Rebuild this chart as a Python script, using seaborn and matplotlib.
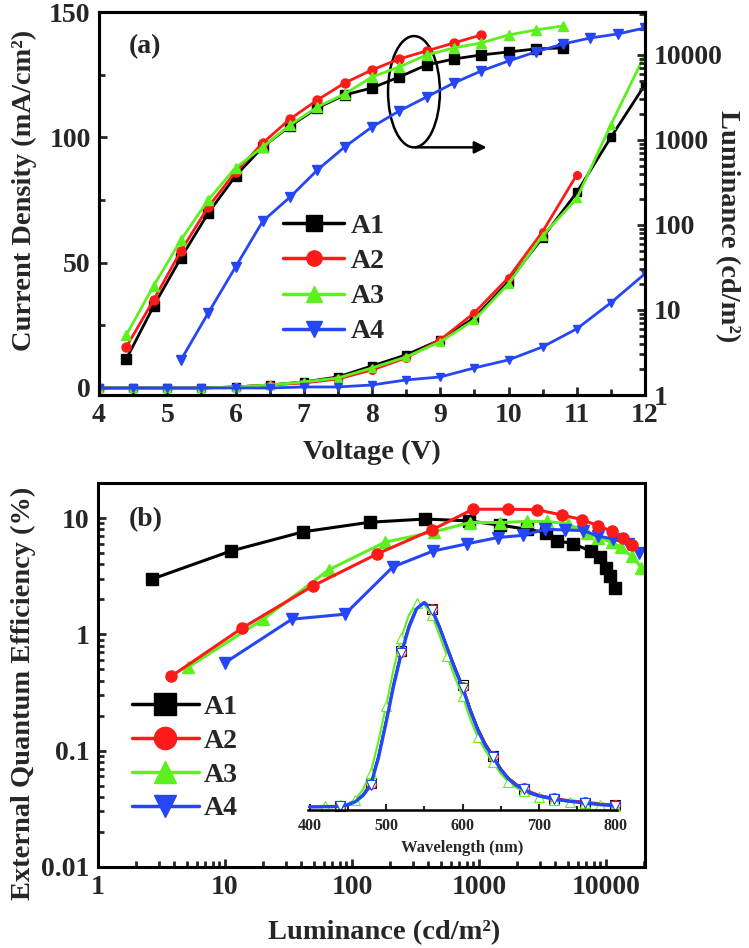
import matplotlib
matplotlib.use("Agg")
import matplotlib.pyplot as plt
import seaborn as sns
from matplotlib.patches import Ellipse
from matplotlib.lines import Line2D
from matplotlib.ticker import MultipleLocator, LogLocator, FuncFormatter, NullFormatter

# ---- data: panel (a) luminance (right axis) ----
lum_v_a1 = [4.4, 4.8, 5.2, 5.6, 6.0, 6.4, 6.8, 7.2, 7.6, 8.0, 8.4, 8.8, 9.2, 9.6, 10.0, 10.4, 10.8]
lum_a1 = [2.65, 11.1, 41, 138, 377, 828, 1462, 2380, 3385, 4090, 5510, 7620, 8970, 10000, 10850, 11770, 12090]
lum_v_a2 = [4.4, 4.8, 5.2, 5.6, 6.0, 6.4, 6.8, 7.2, 7.6, 8.0, 8.4, 8.8, 9.2, 9.6]
lum_a2 = [3.67, 13.1, 49.5, 163, 421, 922, 1766, 2955, 4685, 6660, 8970, 11150, 13840, 17180]
lum_v_a3 = [4.4, 4.8, 5.2, 5.6, 6.0, 6.4, 6.8, 7.2, 7.6, 8.0, 8.4, 8.8, 9.2, 9.6, 10.0, 10.4, 10.8]
lum_a3 = [5.08, 19.2, 66.6, 197, 469, 828, 1500, 2445, 3475, 5510, 7230, 10000, 12090, 13840, 17180, 19680, 21950]
lum_v_a4 = [5.2, 5.6, 6.0, 6.4, 6.8, 7.2, 7.6, 8.0, 8.4, 8.8, 9.2, 9.6, 10.0, 10.4, 10.8, 11.2, 11.6, 12.0]
lum_a4 = [2.58, 9.2, 32, 111, 213, 444, 828, 1422, 2195, 3205, 4685, 6480, 8495, 10850, 13460, 15850, 17650, 20800]

# ---- data: panel (a) current density (left axis) ----
cur_v = [4.0, 4.5, 5.0, 5.5, 6.0, 6.5, 7.0, 7.5, 8.0, 8.5, 9.0, 9.5, 10.0, 10.5, 11.0, 11.5, 12.0]
cur_v_a2 = [4.0, 4.5, 5.0, 5.5, 6.0, 6.5, 7.0, 7.5, 8.0, 8.5, 9.0, 9.5, 10.0, 10.5, 11.0]
cur_a1 = [0, 0, 0, 0, 0.4, 1.2, 2.4, 4.4, 8.8, 13.2, 19.2, 28, 42.4, 60, 78, 100, 121]
cur_a2 = [0, 0, 0, 0, 0.4, 1.2, 2.0, 3.6, 7.2, 12, 19.2, 30, 44, 62.4, 85]
cur_a3 = [0, 0, 0, 0, 0.4, 1.2, 2.4, 4.0, 8.0, 12.4, 18.4, 27.2, 41.6, 60.8, 75.6, 105, 133]
cur_a4 = [0, 0, 0, 0, 0, 0, 0.4, 0.4, 1.2, 3.2, 4.4, 8.0, 11.2, 16.4, 23.6, 34, 45.6]

# ---- data: panel (b) EQE vs luminance ----
eqe_l_a1 = [2.65, 11.1, 41, 138, 377, 828, 1462, 2380, 3385, 4090, 5510, 7620, 8970, 10000, 10850, 11770]
eqe_a1 = [2.98, 5.2, 7.6, 9.2, 9.8, 9.45, 8.7, 8.0, 7.5, 6.4, 6.0, 5.2, 4.6, 3.75, 3.2, 2.5]
eqe_l_a2 = [3.76, 13.6, 49, 157, 426, 897, 1690, 2860, 4500, 6460, 8640, 11100, 13600, 15900]
eqe_a2 = [0.435, 1.13, 2.6, 4.9, 7.9, 11.9, 11.9, 11.8, 10.6, 9.7, 8.6, 7.7, 6.7, 5.85]
eqe_l_a3 = [5.1, 20, 66, 182, 440, 852, 1463, 2390, 3430, 5000, 7100, 8640, 11100, 13100, 15900, 19000]
eqe_a3 = [0.52, 1.35, 3.6, 6.2, 7.6, 9.15, 9.15, 9.35, 9.35, 8.9, 7.5, 6.8, 6.2, 5.6, 4.7, 3.75]
eqe_l_a4 = [10, 33.6, 88, 210, 434, 805, 1410, 2230, 3310, 4750, 6630, 8640, 11400, 14900, 18300]
eqe_a4 = [0.57, 1.35, 1.49, 3.8, 5.2, 6.0, 6.8, 7.1, 8.0, 7.9, 7.8, 7.0, 6.6, 6.0, 5.05]

# ---- data: inset EL spectra (normalised) ----
wl = [400, 410, 420, 430, 440, 450, 460, 470, 480, 490, 500, 510, 520, 530, 540, 550, 560, 570, 580, 590,
      600, 610, 620, 630, 640, 650, 660, 670, 680, 690, 700, 710, 720, 730, 740, 750, 760, 770, 780, 790, 800]
spec_a1 = [.015, .015, .016, .016, .018, .026, .042, .075, .13, .26, .43, .61, .765, .89, .975, 1.0, .97, .885, .785, .69,
           .60, .49, .395, .32, .262, .2, .155, .125, .103, .083, .07, .062, .055, .049, .044, .04, .036, .032, .028, .025, .022]
spec_a2 = [.015, .015, .016, .017, .019, .026, .04, .072, .125, .255, .425, .605, .76, .885, .97, 1.0, .968, .882, .782, .685,
           .595, .485, .39, .315, .26, .2, .155, .125, .105, .087, .073, .065, .058, .052, .047, .043, .04, .036, .032, .028, .025]
spec_a3 = [.015, .018, .02, .02, .022, .03, .05, .10, .18, .33, .50, .68, .83, .94, .995, .99, .94, .84, .74, .64,
           .55, .44, .35, .285, .23, .175, .135, .108, .09, .075, .065, .057, .05, .045, .04, .036, .032, .029, .026, .023, .021]
spec_a4 = [.015, .015, .016, .016, .018, .025, .04, .07, .12, .25, .42, .60, .755, .88, .97, 1.0, .965, .88, .78, .68,
           .59, .48, .385, .31, .255, .195, .15, .12, .10, .08, .068, .06, .053, .047, .042, .038, .034, .03, .026, .023, .02]

names = ["A1", "A2", "A3", "A4"]
colors = ["#000000", "#ff1a1a", "#5ef01e", "#2546f5"]
markers = ["s", "o", "^", "v"]

sns.set_style("ticks")
plt.rcParams['font.family'] = ['Liberation Serif', 'DejaVu Serif']
plt.rcParams['font.weight'] = 'bold'
plt.rcParams['axes.labelweight'] = 'bold'
plt.rcParams['axes.linewidth'] = 2.2
plt.rcParams['axes.edgecolor'] = 'black'

fig = plt.figure(figsize=(7.49, 9.48), dpi=100)
W, H = 749.0, 948.0

def box(l, t, r, b):
    return [l / W, 1 - b / H, (r - l) / W, (b - t) / H]

ax1 = fig.add_axes(box(99, 12, 645, 395))
ax2 = ax1.twinx()
axb = fig.add_axes(box(98, 483, 645, 867))
axi = fig.add_axes(box(308, 590, 617, 810))

def line(ax, x, y, i, ms, lw=2.0, **kw):
    sns.lineplot(x=x, y=y, ax=ax, color=colors[i], marker=markers[i], markersize=ms,
                 markeredgecolor=colors[i], markerfacecolor=kw.pop("mfc", colors[i]),
                 markeredgewidth=kw.pop("mew", 1.0), linewidth=lw, legend=False, **kw)

# --- panel (a) ---
for i, (v, j) in enumerate([(cur_v, cur_a1), (cur_v_a2, cur_a2), (cur_v, cur_a3), (cur_v, cur_a4)]):
    line(ax1, v, j, i, 5.5)
ax2.set_yscale("log")
for i, (v, l) in enumerate([(lum_v_a1, lum_a1), (lum_v_a2, lum_a2), (lum_v_a3, lum_a3), (lum_v_a4, lum_a4)]):
    line(ax2, v, l, i, 6.5)

ax1.set_xlim(4, 12)
ax1.set_ylim(-2.8, 150)
ax2.set_ylim(1, 3.2e4)
ax1.xaxis.set_major_locator(MultipleLocator(1))
ax1.xaxis.set_minor_locator(MultipleLocator(0.5))
ax1.yaxis.set_major_locator(MultipleLocator(50))
ax1.yaxis.set_minor_locator(MultipleLocator(25))
ax2.yaxis.set_major_locator(LogLocator(base=10))
ax2.yaxis.set_minor_locator(LogLocator(base=10, subs=range(2, 10)))
ax2.yaxis.set_major_formatter(FuncFormatter(lambda v, p: f"{v:g}"))
ax2.yaxis.set_minor_formatter(NullFormatter())

ax1.tick_params(axis="both", which="both", direction="in", top=False, right=False, labelsize=20, width=2, pad=6)
ax1.tick_params(which="major", length=6)
ax1.tick_params(which="minor", length=4)
ax2.tick_params(axis="y", which="both", direction="in", left=False, right=True, labelsize=20, width=2, pad=6)
ax2.tick_params(which="major", length=6)
ax2.tick_params(which="minor", length=4)

ax1.set_xlabel("Voltage (V)", fontsize=20.5)
ax1.xaxis.set_label_coords(0.5, -0.1175)
ax1.set_ylabel("Current Density (mA/cm²)", fontsize=20.5)
ax1.yaxis.set_label_coords(-0.114, 0.533)
ax2.set_ylabel("Luminance (cd/m²)", fontsize=20.5, rotation=270)
ax2.yaxis.set_label_coords(1.174, 0.44)
ax1.text(0.084, 0.909, "(a)", transform=ax1.transAxes, fontsize=20, ha="center", va="center")

ax1.add_patch(Ellipse((8.615, 118.2), 0.76, 44.4, fill=False, edgecolor="black", lw=1.8, zorder=5))
ax1.annotate("", xy=(9.72, 96), xytext=(8.6, 96),
             arrowprops=dict(arrowstyle="-|>", color="black", lw=1.8, mutation_scale=18))

handles = [Line2D([], [], color=colors[i], marker=markers[i], markersize=11, lw=2.5) for i in range(4)]
ax2.legend(handles, names, loc="upper left", bbox_to_anchor=(0.337, 0.474), frameon=False,
           prop={"weight": "bold", "size": 20}, handlelength=2.2, handletextpad=0.25,
           labelspacing=0.35, borderaxespad=0, borderpad=0)

# --- panel (b) ---
axb.set_xscale("log")
axb.set_yscale("log")
for i, (l, e) in [(0, (eqe_l_a1, eqe_a1)), (2, (eqe_l_a3, eqe_a3)), (3, (eqe_l_a4, eqe_a4)), (1, (eqe_l_a2, eqe_a2))]:
    line(axb, l, e, i, 8, lw=2.2)
axb.set_xlim(1, 2.03e4)
axb.set_ylim(0.01, 20)
for a in (axb.xaxis, axb.yaxis):
    a.set_major_locator(LogLocator(base=10))
    a.set_minor_locator(LogLocator(base=10, subs=range(2, 10)))
    a.set_major_formatter(FuncFormatter(lambda v, p: f"{v:g}"))
    a.set_minor_formatter(NullFormatter())
axb.tick_params(axis="both", which="both", direction="in", top=False, right=False, labelsize=20, width=2, pad=6)
axb.tick_params(which="major", length=6)
axb.tick_params(which="minor", length=4)
axb.set_xlabel("Luminance (cd/m²)", fontsize=20.5)
axb.xaxis.set_label_coords(0.523, -0.138)
axb.set_ylabel("External Quantum Efficiency (%)", fontsize=20.5)
axb.yaxis.set_label_coords(-0.114, 0.453)
axb.text(0.088, 0.904, "(b)", transform=axb.transAxes, fontsize=20, ha="center", va="center")

handles_b = [Line2D([], [], color=colors[i], marker=markers[i], markersize=16, lw=2.5) for i in range(4)]
axb.legend(handles_b, names, loc="upper left", bbox_to_anchor=(0.062, 0.449), frameon=False,
           prop={"weight": "bold", "size": 20}, handlelength=2.4, handletextpad=0.2,
           labelspacing=0.3, borderaxespad=0, borderpad=0)

# --- inset spectra ---
for i, s in enumerate([spec_a1, spec_a2, spec_a3, spec_a4]):
    every = (2, 2) if i == 2 else (4, 4)
    line(axi, wl, s, i, 7, lw=2.4 if i == 3 else 1.5, mfc="white", mew=0.8, markevery=every, clip_on=False)
axi.set_xlim(398, 802)
axi.set_ylim(0, 1.06)
axi.patch.set_alpha(0)
for s in ("left", "right", "top"):
    axi.spines[s].set_visible(False)
axi.spines["bottom"].set_linewidth(1.8)
axi.set_yticks([])
axi.xaxis.set_major_locator(MultipleLocator(100))
axi.xaxis.set_minor_locator(MultipleLocator(50))
axi.tick_params(axis="x", which="both", direction="in", labelsize=11.5, width=1.5, pad=6)
axi.tick_params(which="major", length=4)
axi.tick_params(which="minor", length=3)
axi.set_xlabel("Wavelength (nm)", fontsize=12, labelpad=4)

fig.savefig("out.png", dpi=100)
